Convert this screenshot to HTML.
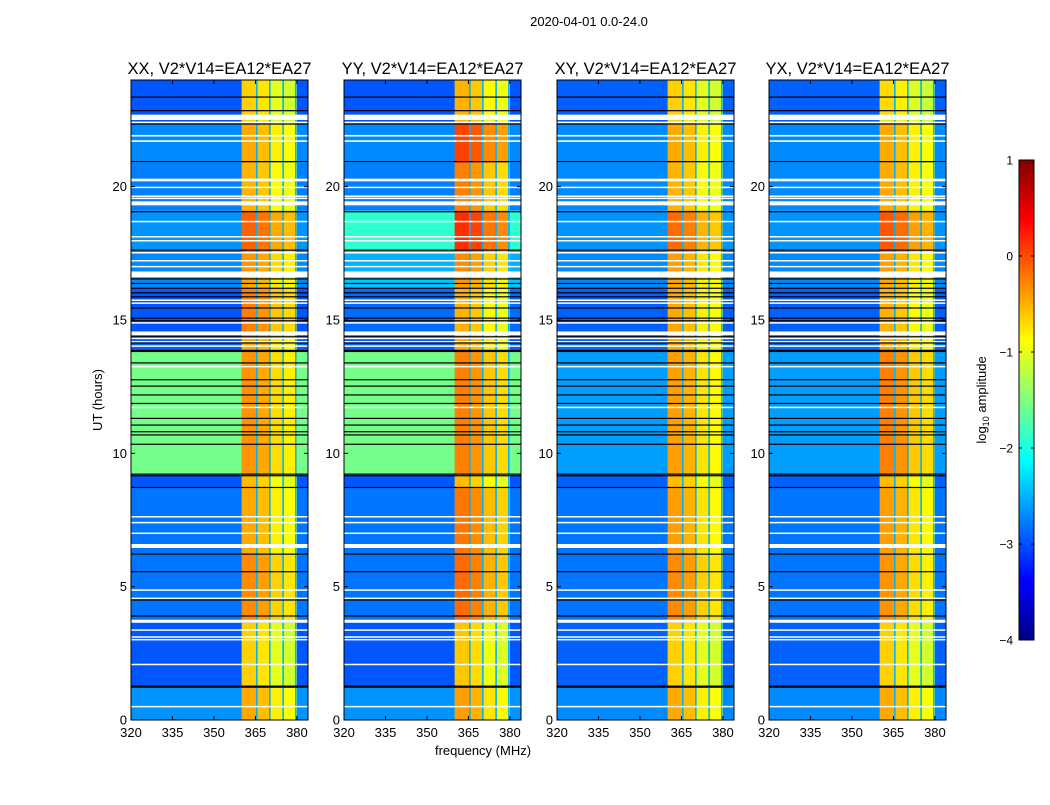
<!DOCTYPE html>
<html><head><meta charset="utf-8"><style>
body{margin:0;background:#fff;}
svg text{font-family:"Liberation Sans",sans-serif;fill:#000;}
</style></head><body>
<svg id="fig" width="1050" height="800" xmlns="http://www.w3.org/2000/svg">
<text x="589" y="26" font-size="13" text-anchor="middle">2020-04-01 0.0-24.0</text>
<text x="483" y="755" font-size="13" text-anchor="middle">frequency (MHz)</text>
<text transform="translate(102,400) rotate(-90)" font-size="13" text-anchor="middle">UT (hours)</text>
<text transform="translate(986,400) rotate(-90)" font-size="13" text-anchor="middle">log<tspan font-size="9" dy="3">10</tspan><tspan dy="-3"> amplitude</tspan></text>
<g id="plots"></g>
<g id="cbar"></g>
</svg>
<script>
// ---- data ----
const panelTitles = ["XX, V2*V14=EA12*EA27","YY, V2*V14=EA12*EA27","XY, V2*V14=EA12*EA27","YX, V2*V14=EA12*EA27"];
const segBounds = [0,1.25,3.65,6.2,8.7,9.2,13.85,14.4,16.2,16.8,17.6,19.1,20.9,22.4,24];
const offBandXX = [-2.65,-2.95,-2.8,-2.8,-2.95,-1.55,-2.9,-2.95,-2.7,-2.7,-2.65,-2.75,-2.7,-2.95];
const offBandYY = [-2.65,-2.95,-2.8,-2.8,-2.95,-1.55,-2.9,-2.85,-2.4,-2.5,-1.9,-2.75,-2.7,-2.95];
const offBandXY = [-2.7,-2.9,-2.8,-2.8,-2.9,-2.6,-2.85,-2.9,-2.7,-2.7,-2.65,-2.7,-2.7,-2.9];
const offBandYX = [-2.7,-2.9,-2.8,-2.8,-2.9,-2.6,-2.85,-2.9,-2.7,-2.7,-2.65,-2.7,-2.7,-2.9];
const bandXX = [-0.7,-0.9,-0.55,-0.7,-0.8,-0.6,-0.7,-0.5,-0.7,-0.6,-0.35,-0.75,-0.7,-0.9];
const bandYY = [-0.65,-0.85,-0.4,-0.45,-0.8,-0.5,-0.7,-0.75,-0.65,-0.55,-0.1,-0.5,-0.2,-0.75];
const bandXY = [-0.7,-0.9,-0.55,-0.65,-0.8,-0.65,-0.7,-0.7,-0.7,-0.65,-0.4,-0.75,-0.7,-0.9];
const bandYX = [-0.7,-0.9,-0.6,-0.65,-0.8,-0.5,-0.7,-0.75,-0.7,-0.65,-0.3,-0.7,-0.7,-0.95];
const subbandEdges = [360,365.5,370.2,375,380];
const subbandOffset = [0.25,0.15,-0.1,-0.2];
const dividerFreqs = [365.5,370.2,375,379.6];
const whiteGaps = [[22.5,22.7],[22.38,22.44],[21.88,21.94],[21.68,21.74],[20.2,20.3],[19.95,20.0],[19.63,19.67],[19.55,19.59],[19.3,19.45],[18.67,18.72],[18.1,18.15],[17.95,18.0],[17.5,17.55],[17.2,17.25],[16.98,17.03],[16.6,16.82],[15.73,15.77],[15.62,15.66],[14.87,14.92],[14.43,14.57],[14.3,14.34],[14.17,14.21],[14.0,14.05],[13.23,13.28],[11.7,11.75],[7.6,7.65],[7.38,7.43],[6.98,7.03],[6.45,6.6],[4.85,4.9],[4.54,4.59],[3.65,3.76],[3.35,3.4],[3.1,3.14],[3.0,3.04],[2.07,2.11],[0.48,0.53]];
const blackLines = [23.36,22.85,22.35,20.94,19.06,17.62,16.54,16.37,16.19,16.02,15.87,15.45,15.07,14.97,14.37,14.14,13.86,13.82,13.39,12.76,12.52,12.19,11.87,11.31,11.06,10.81,10.69,10.34,9.22,9.16,8.72,6.22,5.56,4.5,3.9,1.27,1.23];
const yTicks = [0,5,10,15,20];
const xTicks = [320,335,350,365,380];
const cbarTicks = [-4,-3,-2,-1,0,1];
const panelLeft = [131,344,557,769];
// ---- drawing ----
const offBands=[offBandXX,offBandYY,offBandXY,offBandYX];
const bands=[bandXX,bandYY,bandXY,bandYX];
const NS="http://www.w3.org/2000/svg";
const F0=320,F1=384,PW=177,PT=80,PH=640;
function jet(v){let t=(v+4)/5;t=Math.max(0,Math.min(1,t));
 const c=x=>Math.round(255*Math.max(0,Math.min(1,1.5-Math.abs(4*t-x))));
 return `rgb(${c(3)},${c(2)},${c(1)})`;}
function mk(tag,attrs,parent){const e=document.createElementNS(NS,tag);for(const k in attrs)e.setAttribute(k,attrs[k]);parent.appendChild(e);return e;}
const plots=document.getElementById('plots');
panelLeft.forEach((L,p)=>{
 const xs=f=>L+(f-F0)/(F1-F0)*PW;
 const ys=h=>PT+PH-(h/24)*PH;
 const g=mk('g',{},plots);
 
 
 for(let s=0;s<segBounds.length-1;s++){
  const y0=ys(segBounds[s+1]),y1=ys(segBounds[s]);
  const r=mk('rect',{x:L,y:y0,width:PW,height:y1-y0,fill:jet(offBands[p][s])},g);
  
  
  for(let b=0;b<subbandEdges.length-1;b++){
   const rb=mk('rect',{x:xs(subbandEdges[b]),y:y0,width:xs(subbandEdges[b+1])-xs(subbandEdges[b]),height:y1-y0,fill:jet(bands[p][s]+subbandOffset[b])},g);
   
   
  }
 }
 dividerFreqs.forEach(f=>{const d=mk('rect',{x:xs(f)-0.8,y:PT,width:1.6,height:PH,fill:jet(-2.5)},g);
  
  });
 whiteGaps.forEach(w=>{const y0=ys(w[1]),y1=ys(w[0]);const r=mk('rect',{x:L,y:y0,width:PW,height:Math.max(1.5,y1-y0),fill:'#fff'},g);
  
  });
 blackLines.forEach(h=>{const r=mk('rect',{x:L,y:ys(h)-0.6,width:PW,height:1.2,fill:'#000'},g);
  
  });
 const fr=mk('rect',{x:L,y:PT,width:PW,height:PH,fill:'none',stroke:'#000','stroke-width':1},g);
 
 
 const t=mk('text',{x:L+PW/2,y:74,'font-size':16.5,'text-anchor':'middle'},g);t.textContent=panelTitles[p];
 
 
 yTicks.forEach(h=>{const y=ys(h);
  mk('line',{x1:L,x2:L+4,y1:y,y2:y,stroke:'#000'},g);mk('line',{x1:L+PW-4,x2:L+PW,y1:y,y2:y,stroke:'#000'},g);
  const tl=mk('text',{x:L-4,y:y+4.5,'font-size':13,'text-anchor':'end'},g);tl.textContent=h;
  
  });
 xTicks.forEach(f=>{const x=xs(f);
  mk('line',{x1:x,x2:x,y1:PT+PH,y2:PT+PH-4,stroke:'#000'},g);mk('line',{x1:x,x2:x,y1:PT,y2:PT+4,stroke:'#000'},g);
  const tl=mk('text',{x:x,y:737,'font-size':13,'text-anchor':'middle'},g);tl.textContent=f;
  
  });
});
// colorbar
const cb=document.getElementById('cbar');
const CX=1019,CW=15,CT=160,CH=480;
const cys=v=>CT+CH-(v+4)/5*CH;
for(let i=0;i<120;i++){const v0=-4+i*5/120;const r=mk('rect',{x:CX,y:cys(v0+5/120),width:CW,height:CH/120+0.5,fill:jet(v0+2.5/120)},cb);
 
 }
const cf=mk('rect',{x:CX,y:CT,width:CW,height:CH,fill:'none',stroke:'#000'},cb);


cbarTicks.forEach(v=>{const y=cys(v);
 mk('line',{x1:CX,x2:CX+3,y1:y,y2:y,stroke:'#000'},cb);mk('line',{x1:CX+CW-3,x2:CX+CW,y1:y,y2:y,stroke:'#000'},cb);
 const t=mk('text',{x:CX-6,y:y+4.5,'font-size':12,'text-anchor':'end'},cb);t.textContent=(v<0?'\u2212'+(-v):v);
 
 });
</script>
</body></html>
